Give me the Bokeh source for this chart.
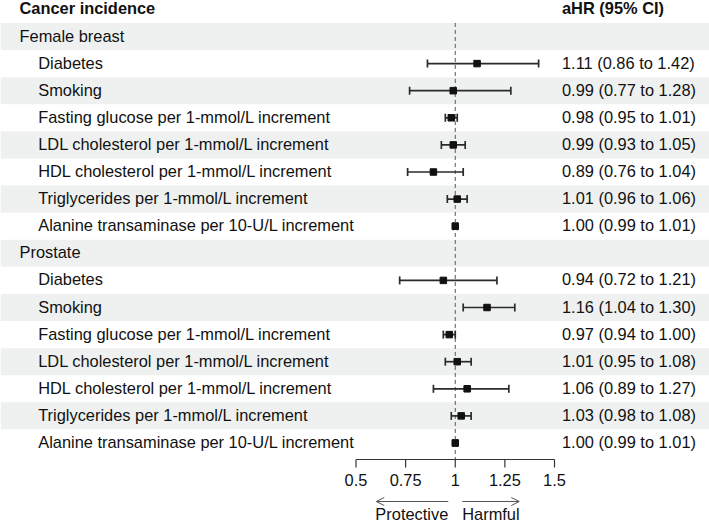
from bokeh.plotting import figure
from bokeh.models import Range1d, ColumnDataSource, Arrow, OpenHead
from bokeh.core.properties import value
from bokeh.embed import file_html
from bokeh.resources import INLINE

# ---------------- data ----------------
header_left = "Cancer incidence"
header_right = "aHR (95% CI)"
groups = ["Female breast", "Prostate"]
factors = [
    "Diabetes",
    "Smoking",
    "Fasting glucose per 1-mmol/L increment",
    "LDL cholesterol per 1-mmol/L increment",
    "HDL cholesterol per 1-mmol/L increment",
    "Triglycerides per 1-mmol/L increment",
    "Alanine transaminase per 10-U/L increment",
]
breast_hr = [1.11, 0.99, 0.98, 0.99, 0.89, 1.01, 1.00]
breast_lo = [0.86, 0.77, 0.95, 0.93, 0.76, 0.96, 0.99]
breast_hi = [1.42, 1.28, 1.01, 1.05, 1.04, 1.06, 1.01]
prostate_hr = [0.94, 1.16, 0.97, 1.01, 1.06, 1.03, 1.00]
prostate_lo = [0.72, 1.04, 0.94, 0.95, 0.89, 0.98, 0.99]
prostate_hi = [1.21, 1.30, 1.00, 1.08, 1.27, 1.08, 1.01]
x_ticks = [0.5, 0.75, 1, 1.25, 1.5]
tick_labels = ["0.5", "0.75", "1", "1.25", "1.5"]
direction_labels = ["Protective", "Harmful"]

# ---------------- layout ----------------
W, H = 709, 524
PX = 198.5          # pixels per HR unit
X_ONE = 454.75      # pixel position of HR = 1
x_start = 1 - X_ONE / PX
x_end = x_start + W / PX


def px(xp):
    return x_start + xp / PX


ROW0 = 36.0
ROW_H = 27.1
TXT_DY = -1         # middle-baseline offset so cap centre sits on the row centre
FONT = value("Liberation Sans")
FS = "16.4px"
TXT = "#111111"
BAND = "#eff1f1"

p = figure(width=W, height=H, x_range=Range1d(x_start, x_end), y_range=Range1d(H, 0),
           output_backend="svg", toolbar_location=None,
           x_axis_location=None, y_axis_location=None,
           min_border=0, min_border_left=0, min_border_right=0,
           min_border_top=0, min_border_bottom=0, outline_line_color=None)
p.grid.visible = False
p.background_fill_color = "white"

# build rows
labels, is_group, hr, lo, hi = [], [], [], [], []
for g, (h_, l_, u_) in zip(groups, [(breast_hr, breast_lo, breast_hi),
                                    (prostate_hr, prostate_lo, prostate_hi)]):
    labels.append(g); is_group.append(True); hr.append(None); lo.append(None); hi.append(None)
    for f, a, b, c in zip(factors, h_, l_, u_):
        labels.append(f); is_group.append(False); hr.append(a); lo.append(b); hi.append(c)

ys = [ROW0 + i * ROW_H for i in range(len(labels))]

# bands
band_y = [y for i, y in enumerate(ys) if i % 2 == 0]
p.quad(left=x_start, right=x_end, top=[y - ROW_H / 2 for y in band_y],
       bottom=[y + ROW_H / 2 for y in band_y], fill_color=BAND, line_color=None)

# header
hy = 8 + TXT_DY
p.text(x=[px(19)], y=[hy], text=[header_left], text_font=FONT, text_font_size=FS,
       text_font_style="bold", text_color=TXT, text_baseline="middle")
p.text(x=[px(561.5)], y=[hy], text=[header_right], text_font=FONT, text_font_size=FS,
       text_font_style="bold", text_color=TXT, text_baseline="middle")

# row labels
lx = [px(19) if g else px(37.7) for g in is_group]
p.text(x=lx, y=[y + TXT_DY for y in ys], text=labels, text_font=FONT, text_font_size=FS,
       text_color=TXT, text_baseline="middle")

# reference line at HR = 1
AXIS_Y = 459
p.segment(x0=[1], x1=[1], y0=[ROW0 - ROW_H / 2], y1=[AXIS_Y], line_color="#555555",
          line_width=1, line_dash="4 3")

# estimates
idx = [i for i, g in enumerate(is_group) if not g]
src = ColumnDataSource(dict(
    y=[ys[i] for i in idx], hr=[hr[i] for i in idx], lo=[lo[i] for i in idx], hi=[hi[i] for i in idx],
    ytop=[ys[i] - 4 for i in idx], ybot=[ys[i] + 4 for i in idx],
    ty=[ys[i] + TXT_DY for i in idx],
    txt=[f"{hr[i]:.2f} ({lo[i]:.2f} to {hi[i]:.2f})" for i in idx],
))
p.segment(x0="lo", x1="hi", y0="y", y1="y", source=src, line_color="#2b2b2b", line_width=1.7)
p.segment(x0="lo", x1="lo", y0="ytop", y1="ybot", source=src, line_color="#2b2b2b", line_width=1.7)
p.segment(x0="hi", x1="hi", y0="ytop", y1="ybot", source=src, line_color="#2b2b2b", line_width=1.7)
p.scatter(x="hr", y="y", source=src, marker="square", size=6.5, fill_color="#111111",
          line_color="#111111")
p.text(x=px(561.5), y="ty", text="txt", source=src, text_font=FONT, text_font_size=FS,
       text_color=TXT, text_baseline="middle")

# x axis
p.segment(x0=[x_ticks[0]], x1=[x_ticks[-1]], y0=[AXIS_Y], y1=[AXIS_Y], line_color="#333333", line_width=1.2)
p.segment(x0=x_ticks, x1=x_ticks, y0=[AXIS_Y] * len(x_ticks), y1=[AXIS_Y + 8] * len(x_ticks),
          line_color="#333333", line_width=1.2)
p.text(x=x_ticks, y=[480 + TXT_DY] * len(x_ticks), text=tick_labels, text_font=FONT, text_font_size=FS,
       text_color=TXT, text_align="center", text_baseline="middle")

# direction arrows
ARR_Y = 501
p.add_layout(Arrow(x_start=1 - 7 / PX, x_end=1 - 79 / PX, y_start=ARR_Y, y_end=ARR_Y,
                   line_color="#555555", line_width=1,
                   end=OpenHead(size=8, line_color="#555555", line_width=1)))
p.add_layout(Arrow(x_start=1 + 7 / PX, x_end=1 + 64 / PX, y_start=ARR_Y, y_end=ARR_Y,
                   line_color="#555555", line_width=1,
                   end=OpenHead(size=8, line_color="#555555", line_width=1)))
p.text(x=[1 - 7 / PX, 1 + 7 / PX], y=[514 + TXT_DY] * 2, text=direction_labels, text_font=FONT,
       text_font_size=FS, text_color=TXT, text_align=["right", "left"], text_baseline="middle")

open("out.html", "w").write(file_html(p, INLINE))
